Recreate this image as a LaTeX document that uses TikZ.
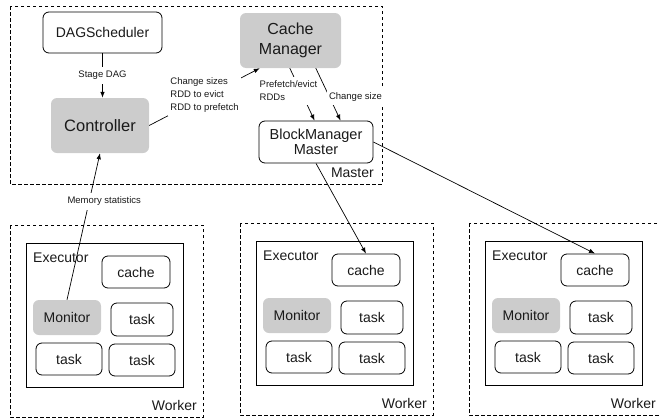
\documentclass[tikz,border=0pt]{standalone}
\usepackage{fontspec}
\setmainfont{Liberation Sans}
\usetikzlibrary{arrows.meta,calc}
\definecolor{boxgray}{HTML}{CCCCCC}
\definecolor{txt}{HTML}{1A1A1A}
\begin{document}
\begin{tikzpicture}[x=1pt,y=-1pt,
  every node/.style={inner sep=0pt, text=txt, font=\fontsize{14}{16.8}\selectfont},
  wbox/.style={draw, rounded corners=6pt, fill=white, line width=0.8pt, align=center},
  gbox/.style={fill=boxgray, rounded corners=6pt, align=center},
  dbox/.style={draw, dash pattern=on 3.5pt off 2.5pt, line width=0.8pt},
  exbox/.style={draw, line width=0.8pt},
  arr/.style={-{Latex[length=6pt,width=4.5pt]}, line width=0.7pt},
  lbl/.style={fill=white, inner xsep=2pt, inner ysep=4pt, font=\fontsize{9.5}{13}\selectfont, align=left},
]
\useasboundingbox (0,0) rectangle (659,418);

% Master
\draw[dbox] (10,6) rectangle (382,184);
\node[wbox, minimum width=119pt, minimum height=41pt] (dag) at (102.5,32.5) {DAGScheduler};
\node[gbox, minimum width=101pt, minimum height=55pt, font=\fontsize{16}{20.5}\selectfont] (cm) at (290.5,40.5) {Cache\\Manager};
\node[gbox, minimum width=98pt, minimum height=55pt, font=\fontsize{16.5}{19}\selectfont] (ctrl) at (100,125.5) {Controller};
\node[wbox, minimum width=114pt, minimum height=42pt, font=\fontsize{14.5}{15.5}\selectfont] (bmm) at (316,142) {BlockManager\\Master};
\node[anchor=east] (mlab) at (374,173) {Master};

% Workers
\foreach \i/\dx/\dy in {1/0/0,2/230/-2,3/459/-2}{
  \begin{scope}[shift={(\dx,\dy)}]
    \draw[dbox] (10,225) rectangle (203,417);
    \draw[exbox] (26,243) rectangle (183,387);
    \node[anchor=west] (ex\i) at (33,258) {Executor};
    \node[wbox, minimum width=68pt, minimum height=32pt] (cache\i) at (136,272) {cache};
    \node[gbox, minimum width=68pt, minimum height=35pt] (mon\i) at (67,317.5) {Monitor};
    \node[wbox, minimum width=62pt, minimum height=33pt] (ta\i) at (142,319.5) {task};
    \node[wbox, minimum width=66pt, minimum height=32pt] (tb\i) at (69,359) {task};
    \node[wbox, minimum width=66pt, minimum height=32pt] (tc\i) at (142,360) {task};
    \node[anchor=east] (wl\i) at (197,405) {Worker};
  \end{scope}
}

% Connectors
\draw[arr] (dag) -- node[lbl] {Stage DAG} (dag |- ctrl.north);
\draw[arr] (ctrl.east) -- node[lbl, pos=0.5, yshift=2pt] {Change sizes\\RDD to evict\\RDD to prefetch} ($(cm.south west)+(20,0)$);
\draw[arr] ($(cm.south west)+(50,0)$) -- node[lbl, pos=0.43, xshift=-12pt] {Prefetch/evict\\RDDs} ($(bmm.north west)+(56,0)$);
\draw[arr] ($(cm.south west)+(76,0)$) -- node[lbl, pos=0.55, xshift=26pt] {Change size} ($(bmm.north west)+(82,0)$);
\draw[arr] (bmm.south) -- (cache2.north);
\draw[arr] (bmm.east) -- (cache3.north);
\draw[arr] (mon1.north) -- node[lbl, pos=0.673, xshift=15pt] {Memory statistics} (ctrl.south);
\end{tikzpicture}
\end{document}
